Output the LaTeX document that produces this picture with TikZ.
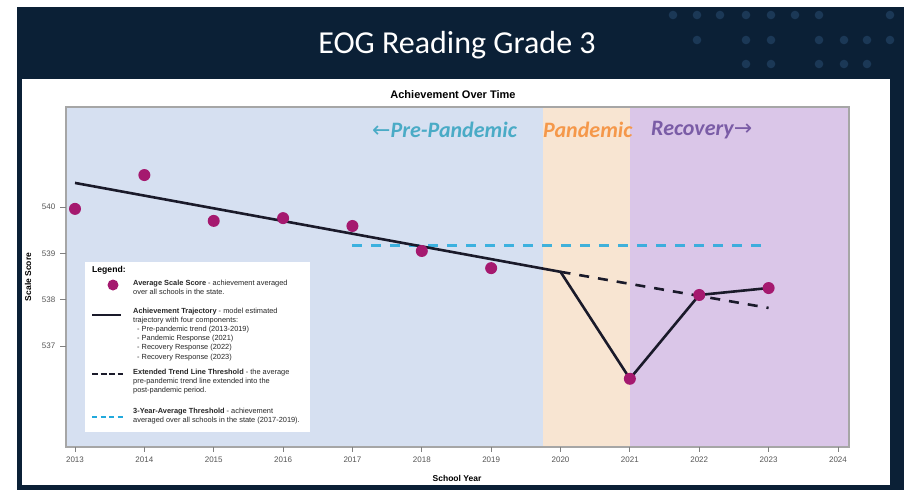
\documentclass[tikz,border=0pt]{standalone}
\usepackage{fontspec}
\setmainfont{Liberation Sans}
\newfontfamily\calibri{Carlito}
\newfontfamily\arrowfont{DejaVu Sans}
\definecolor{navy}{HTML}{0B2036}
\definecolor{navydot}{HTML}{1B3856}
\definecolor{prebg}{HTML}{D6E0F1}
\definecolor{panbg}{HTML}{F8E5D2}
\definecolor{recbg}{HTML}{DAC6E8}
\definecolor{scoredot}{HTML}{A5196F}
\definecolor{trajline}{HTML}{1A1A2A}
\definecolor{threeyr}{HTML}{22A9DC}
\definecolor{preteal}{HTML}{4AABC6}
\definecolor{panorange}{HTML}{F5984A}
\definecolor{recpurple}{HTML}{7A5CA6}
\definecolor{axisgrey}{HTML}{555555}

\begin{document}
\begin{tikzpicture}[x=1pt,y=-1pt,
  score/.style={fill=scoredot,draw=none},
  traj/.style={trajline,line width=2.6pt,line join=round},
  ext/.style={trajline,line width=2.6pt,dash pattern=on 10pt off 9pt},
  avg/.style={threeyr,line width=3pt,dash pattern=on 10pt off 9pt,draw opacity=0.85},
  ticklab/.style={text=axisgrey,font=\fontsize{8}{9}\selectfont},
  region/.style={anchor=west,inner sep=0,font=\calibri\bfseries\itshape\fontsize{22}{24}\selectfont},
  legtext/.style={anchor=north west,inner sep=0,align=left,text=black!85,font=\fontsize{7.4}{9.1}\selectfont}]
\useasboundingbox (0,0) rectangle (904,490);
% slide background
\fill[navy] (17,7) rectangle (904,490);
\foreach \x in {673,697,720,746,771,795,819,890} \fill[navydot] (\x,15) circle (4.3);
\foreach \x in {697,746,771,819,844,867,890} \fill[navydot] (\x,40) circle (4.3);
\foreach \x in {746,771,819,844,867} \fill[navydot] (\x,64) circle (4.3);
\node[text=white,font=\calibri\fontsize{32}{36}\selectfont] (title) at (457,45) {EOG Reading Grade 3};
\fill[white] (22,79) rectangle (890,485);
\node[font=\bfseries\fontsize{11}{12}\selectfont] (charttitle) at (453,95) {Achievement Over Time};

% plot area
\fill[prebg] (66,107) rectangle (543,447);
\fill[panbg] (543,107) rectangle (630,447);
\fill[recbg] (630,107) rectangle (849,447);
\draw[gray!70,line width=1.2pt] (66,107) rectangle (849,447);
\foreach \i [count=\n from 0] in {2013,...,2024}
  \draw[gray,line width=0.8pt] ({75+69.36*\n},447) -- ++(0,5) node[ticklab,below=1pt] {\i};
\foreach \v [count=\n from 0] in {540,539,538,537}
  \draw[gray,line width=0.8pt] (66,{207+46.3*\n}) -- ++(-6,0) node[ticklab,left=1pt] {\v};
\node[font=\bfseries\fontsize{8.5}{10}\selectfont] (xlab) at (457,478) {School Year};
\node[rotate=90,font=\bfseries\fontsize{8.5}{10}\selectfont] (ylab) at (28,277) {Scale Score};

\node[region,text=preteal] (prelab) at (372,130) {{\arrowfont\mdseries\upshape ←}Pre-Pandemic};
\node[region,text=panorange] (panlab) at (543,130) {Pandemic};
\node[region,text=recpurple] (reclab) at (651,130) {Recovery{\arrowfont\mdseries\upshape →}};

% data, in years after 2013 and points from 540
\begin{scope}[shift={(75,207)},x=69.36pt,y=46.3pt]
  \coordinate (t13) at (0,0.52);
  \coordinate (t20) at (7,-1.40);
  \coordinate (e23) at (10,-2.18);
  \coordinate (a17) at (4,-0.84);
  \coordinate (a23) at (10,-0.84);
  \coordinate (s13) at (0,-0.04);
  \coordinate (s14) at (1,0.69);
  \coordinate (s15) at (2,-0.30);
  \coordinate (s16) at (3,-0.24);
  \coordinate (s17) at (4,-0.41);
  \coordinate (s18) at (5,-0.95);
  \coordinate (s19) at (6,-1.32);
  \coordinate (s21) at (8,-3.71);
  \coordinate (s22) at (9,-1.90);
  \coordinate (s23) at (10,-1.75);
  \draw[avg] (a17) -- (a23);
  \draw[ext] (t20) -- (e23);
  \draw[traj] (t13) -- (t20) -- (s21) -- (s22) -- (s23);
  \foreach \p in {s13,s14,s15,s16,s17,s18,s19,s21,s22,s23}
    \fill[score] (\p) circle (6pt);
\end{scope}

% legend
\fill[white] (85,262) rectangle (310,432);
\node[anchor=west,inner sep=0,font=\bfseries\fontsize{8.6}{10}\selectfont] (leghead) at (92,270) {Legend:};
\fill[score] (113,285) circle (5.5);
\draw[trajline,line width=2.4pt] (92,315) -- (121,315);
\draw[trajline,line width=2.4pt,dash pattern=on 6pt off 2.5pt] (92,374) -- (123,374);
\draw[threeyr,line width=2.4pt,dash pattern=on 5pt off 3.5pt] (92,417) -- (123,417);
\node[legtext] (legscore) at (133,280) {\textbf{Average Scale Score} - achievement averaged\\over all schools in the state.};
\node[legtext] (legtraj) at (133,308) {\textbf{Achievement Trajectory} - model estimated\\trajectory with four components:\\
  \hspace{4pt}- Pre-pandemic trend (2013-2019)\\\hspace{4pt}- Pandemic Response (2021)\\
  \hspace{4pt}- Recovery Response (2022)\\\hspace{4pt}- Recovery Response (2023)};
\node[legtext] (legext) at (133,369) {\textbf{Extended Trend Line Threshold} - the average\\pre-pandemic trend line extended into the\\post-pandemic period.};
\node[legtext] (legavg) at (133,408) {\textbf{3-Year-Average Threshold} - achievement\\averaged over all schools in the state (2017-2019).};
\end{tikzpicture}
\end{document}
